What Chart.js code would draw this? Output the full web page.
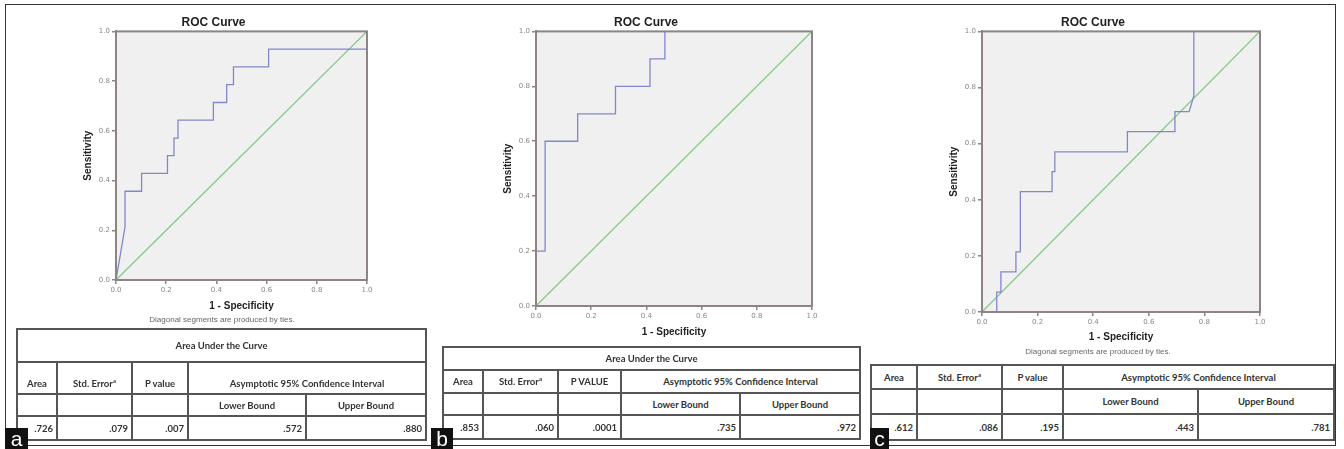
<!DOCTYPE html>
<html>
<head>
<meta charset="utf-8">
<script src="https://cdn.jsdelivr.net/npm/chart.js@4.4.0/dist/chart.umd.min.js"></script>
<style>
  body { margin: 0; background: #fff; width: 1344px; height: 449px; overflow: hidden; position: relative; font-family: "Liberation Sans", Arial, sans-serif; }
  .frame { position: absolute; left: 5px; top: 4px; width: 1331px; height: 442px; border: 1.5px solid #333; box-sizing: border-box; }
  canvas { position: absolute; }
  .note { position: absolute; font-size: 8px; color: #666; transform: translateX(-50%); white-space: nowrap; }
  table.auc { position: absolute; border-collapse: collapse; table-layout: fixed; font-family: Lato, "Open Sans", sans-serif; font-weight: bold; font-size: 9.5px; color: #333; }
  table.auc td { border: 2px solid #555; padding: 0 4px; text-align: center; overflow: hidden; white-space: nowrap; }
  table.auc td.num { text-align: right; padding-right: 3px; }
  table.auc sup { font-size: 6px; }
  .tag { position: absolute; background: #111; color: #fff; font-family: "Liberation Sans", Arial, sans-serif; font-size: 21px; line-height: 21px; text-align: center; }
</style>
</head>
<body>
<div class="frame"></div>

<canvas id="rocA" width="330" height="310" style="left:60px;top:8px;width:330px;height:310px"></canvas>
<canvas id="rocB" width="355" height="336" style="left:480px;top:8px;width:355px;height:336px"></canvas>
<canvas id="rocC" width="357" height="342" style="left:926px;top:8px;width:357px;height:342px"></canvas>

<div class="note" style="left:222px;top:315px">Diagonal segments are produced by ties.</div>
<div class="note" style="left:1098px;top:347px">Diagonal segments are produced by ties.</div>

<table class="auc" style="left:16px;top:328px;width:409px">
  <colgroup><col style="width:40px"><col style="width:75px"><col style="width:56px"><col style="width:118px"><col style="width:120px"></colgroup>
  <tr style="height:33px"><td colspan="5">Area Under the Curve</td></tr>
  <tr style="height:32px"><td style="vertical-align:bottom;padding-bottom:4px">Area</td><td style="vertical-align:bottom;padding-bottom:4px">Std. Error<sup>a</sup></td><td style="vertical-align:bottom;padding-bottom:4px">P value</td><td colspan="2" style="vertical-align:bottom;padding-bottom:4px">Asymptotic 95% Confidence Interval</td></tr>
  <tr style="height:22px"><td></td><td></td><td></td><td>Lower Bound</td><td>Upper Bound</td></tr>
  <tr style="height:24px" id="rowA"></tr>
</table>

<table class="auc" style="left:442px;top:346px;width:417px">
  <colgroup><col style="width:40px"><col style="width:75px"><col style="width:63px"><col style="width:119px"><col style="width:120px"></colgroup>
  <tr style="height:23px"><td colspan="5">Area Under the Curve</td></tr>
  <tr style="height:23px"><td>Area</td><td>Std. Error<sup>a</sup></td><td>P VALUE</td><td colspan="2">Asymptotic 95% Confidence Interval</td></tr>
  <tr style="height:22px"><td></td><td></td><td></td><td>Lower Bound</td><td>Upper Bound</td></tr>
  <tr style="height:24px" id="rowB"></tr>
</table>

<table class="auc" style="left:870px;top:364px;width:463px">
  <colgroup><col style="width:46px"><col style="width:85px"><col style="width:61px"><col style="width:135px"><col style="width:136px"></colgroup>
  <tr style="height:24px"><td>Area</td><td>Std. Error<sup>a</sup></td><td>P value</td><td colspan="2">Asymptotic 95% Confidence Interval</td></tr>
  <tr style="height:25px"><td></td><td></td><td></td><td>Lower Bound</td><td>Upper Bound</td></tr>
  <tr style="height:26px" id="rowC"></tr>
</table>

<div class="tag" style="left:5px;top:428px;width:23px;height:21px">a</div>
<div class="tag" style="left:431px;top:428px;width:22px;height:21px">b</div>
<div class="tag" style="left:870px;top:428px;width:19px;height:21px">c</div>

<script>
const tickValues = [0, 0.2, 0.4, 0.6, 0.8, 1.0];
const refLine = [0, 1];

// curve a
const fprA = [0, 0.012, 0.036, 0.036, 0.102, 0.102, 0.205, 0.205, 0.231, 0.231, 0.247, 0.247, 0.388, 0.388, 0.441, 0.441, 0.468, 0.468, 0.608, 0.608, 1.0, 1.0];
const tprA = [0, 0.071, 0.214, 0.357, 0.357, 0.429, 0.429, 0.5, 0.5, 0.571, 0.571, 0.643, 0.643, 0.714, 0.714, 0.786, 0.786, 0.857, 0.857, 0.929, 0.929, 1.0];
// curve b
const fprB = [0, 0, 0.033, 0.033, 0.151, 0.151, 0.288, 0.288, 0.413, 0.413, 0.467, 0.467, 1.0];
const tprB = [0, 0.2, 0.2, 0.6, 0.6, 0.7, 0.7, 0.8, 0.8, 0.9, 0.9, 1.0, 1.0];
// curve c
const fprC = [0, 0.053, 0.053, 0.068, 0.068, 0.122, 0.122, 0.138, 0.138, 0.252, 0.252, 0.262, 0.262, 0.523, 0.523, 0.694, 0.694, 0.745, 0.762, 0.762, 1.0];
const tprC = [0, 0, 0.071, 0.071, 0.143, 0.143, 0.214, 0.214, 0.429, 0.429, 0.5, 0.5, 0.571, 0.571, 0.643, 0.643, 0.714, 0.714, 0.77, 1.0, 1.0];

// table values: area, std error, p, lower, upper
const aucA = ['.726', '.079', '.007', '.572', '.880'];
const aucB = ['.853', '.060', '.0001', '.735', '.972'];
const aucC = ['.612', '.086', '.195', '.443', '.781'];

function fillRow(id, vals) {
  document.getElementById(id).innerHTML = vals.map(v => `<td class="num">${v}</td>`).join('');
}

const plotFrame = {
  id: 'plotFrame',
  beforeDraw(chart) {
    const a = chart.chartArea, ctx = chart.ctx;
    ctx.save();
    ctx.fillStyle = '#f0f0f0';
    ctx.fillRect(a.left, a.top, a.right - a.left, a.bottom - a.top);
    ctx.restore();
  },
  afterDraw(chart) {
    const a = chart.chartArea, ctx = chart.ctx;
    ctx.save();
    ctx.strokeStyle = '#8f8484';
    ctx.lineWidth = 2;
    ctx.strokeRect(a.left, a.top, a.right - a.left, a.bottom - a.top);
    ctx.restore();
  }
};

function toPoints(xs, ys) {
  return xs.map((x, i) => ({ x: x, y: ys[i] }));
}

function makeRoc(id, fpr, tpr, xTitlePad) {
  const axisCommon = {
    type: 'linear', min: 0, max: 1,
    afterBuildTicks: axis => { axis.ticks = tickValues.map(v => ({ value: v })); },
    ticks: { color: '#888', font: { size: 7, family: 'DejaVu Sans' }, padding: 2, callback: v => v.toFixed(1) },
    grid: { drawOnChartArea: false, drawTicks: true, tickLength: 4, color: '#8f8484', lineWidth: 1.5 },
    border: { display: true, color: '#8f8484', width: 2 }
  };
  new Chart(document.getElementById(id), {
    type: 'scatter',
    data: {
      datasets: [
        { data: toPoints(fpr, tpr), showLine: true, borderColor: '#8287c8', borderWidth: 1.3, pointRadius: 0, tension: 0 },
        { data: toPoints(refLine, refLine), showLine: true, borderColor: '#86c986', borderWidth: 1.3, pointRadius: 0, tension: 0 }
      ]
    },
    options: {
      responsive: false,
      animation: false,
      layout: { padding: { top: 0, right: 23, bottom: 0, left: 0 } },
      plugins: {
        legend: { display: false },
        tooltip: { enabled: false },
        title: { display: true, text: 'ROC Curve', color: '#222', font: { size: 12, weight: 'bold', family: 'Liberation Sans' }, padding: { top: 7, bottom: 2 } }
      },
      scales: {
        x: Object.assign({}, axisCommon, {
          afterFit: s => { s.height = 38; },
          title: { display: true, text: '1 - Specificity', color: '#222', font: { size: 10, weight: 'bold', family: 'Liberation Sans' }, padding: { top: 0, bottom: xTitlePad } }
        }),
        y: Object.assign({}, axisCommon, {
          afterFit: s => { s.width = 56; },
          title: { display: true, text: 'Sensitivity', color: '#222', font: { size: 10, weight: 'bold', family: 'Liberation Sans' }, padding: { top: 22, bottom: 0 } }
        })
      }
    },
    plugins: [plotFrame]
  });
}

makeRoc('rocA', fprA, tprA, 6);
makeRoc('rocB', fprB, tprB, 6);
makeRoc('rocC', fprC, tprC, 7);

fillRow('rowA', aucA);
fillRow('rowB', aucB);
fillRow('rowC', aucC);
</script>
</body>
</html>
